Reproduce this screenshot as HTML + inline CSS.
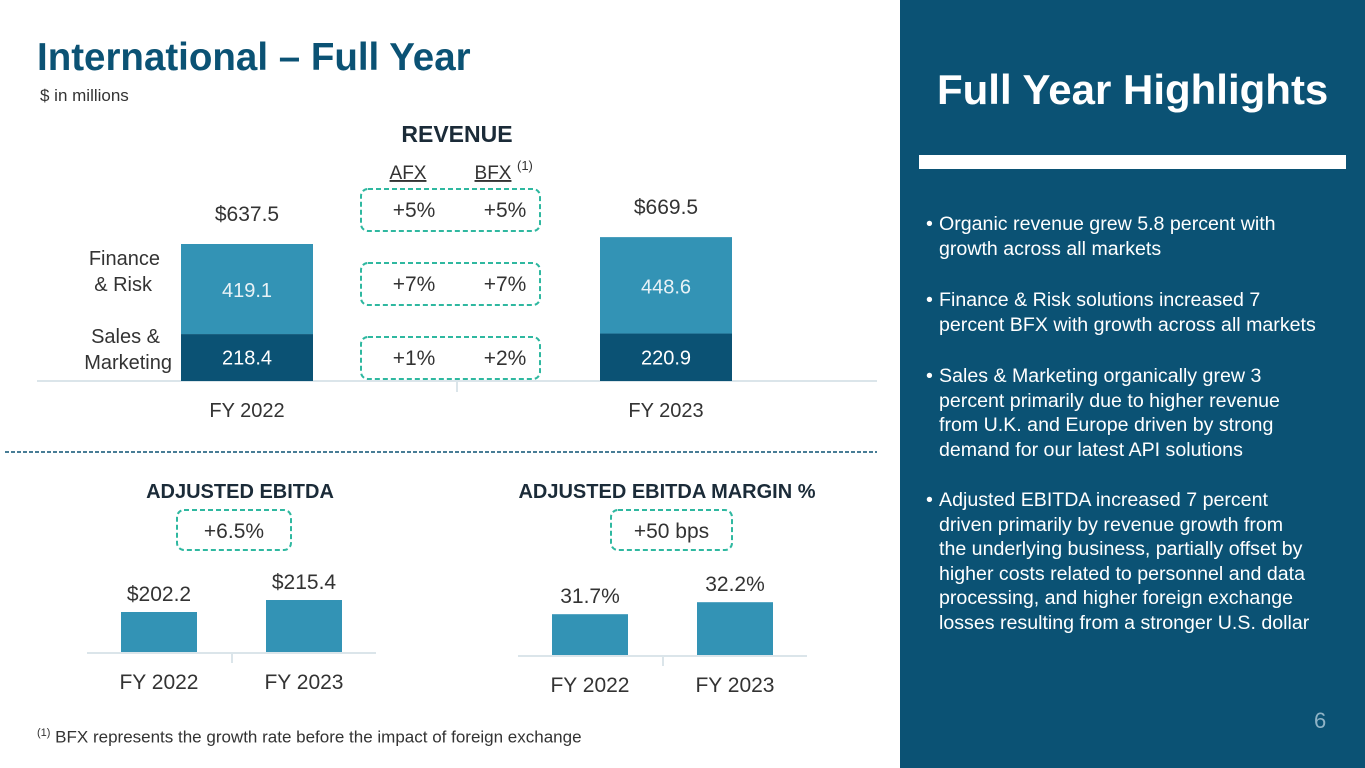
<!DOCTYPE html>
<html><head><meta charset="utf-8"><style>
body{margin:0;width:1365px;height:768px;overflow:hidden;background:#fff;font-family:"Liberation Sans",sans-serif;position:relative}
.a{position:absolute;white-space:nowrap}
#panel{position:absolute;left:900px;top:0;width:465px;height:768px;background:#0b5274}
.bl{position:absolute;left:39px;color:#fff;font-size:19.6px;line-height:24.5px;white-space:nowrap}
.bl .d{position:absolute;left:-13px}
</style></head><body>
<div class="a" style="left:37px;top:36px;font-size:38.5px;font-weight:bold;color:#0b5274">International – Full Year</div>
<div class="a" style="left:40px;top:86px;font-size:17px;color:#333">$ in millions</div>
<svg id="c" width="900" height="768" style="position:absolute;left:0;top:0"></svg>
<div id="panel">
<div class="a" style="left:37px;top:66px;font-size:42px;font-weight:bold;color:#fff">Full Year Highlights</div>
<div class="a" style="left:19px;top:155px;width:427px;height:14px;background:#fff"></div>
<div class="bl" style="top:212px"><span class="d">•</span>Organic revenue grew 5.8 percent with<br>growth across all markets</div>
<div class="bl" style="top:288px"><span class="d">•</span>Finance &amp; Risk solutions increased 7<br>percent BFX with growth across all markets</div>
<div class="bl" style="top:364px"><span class="d">•</span>Sales &amp; Marketing organically grew 3<br>percent primarily due to higher revenue<br>from U.K. and Europe driven by strong<br>demand for our latest API solutions</div>
<div class="bl" style="top:488px"><span class="d">•</span>Adjusted EBITDA increased 7 percent<br>driven primarily by revenue growth from<br>the underlying business, partially offset by<br>higher costs related to personnel and data<br>processing, and higher foreign exchange<br>losses resulting from a stronger U.S. dollar</div>
<div class="a" style="left:414px;top:708px;font-size:22px;color:#8fb3c6">6</div>
</div>
<div class="a" style="left:37px;top:727px;font-size:17px;color:#333"><sup style="font-size:11px">(1)</sup> BFX represents the growth rate before the impact of foreign exchange</div>
<script>
const years=["FY 2022","FY 2023"];
const salesMkt=[218.4,220.9];
const finRisk=[419.1,448.6];
const totals=[637.5,669.5];
const ebitda=[202.2,215.4];
const ebitdaLabels=["$202.2","$215.4"];
const margin=[31.7,32.2];
const marginLabels=["31.7%","32.2%"];
const afx=["+5%","+7%","+1%"];
const bfx=["+5%","+7%","+2%"];
const svg=document.getElementById('c');
const NS='http://www.w3.org/2000/svg';
function mk(t,a,txt){const e=document.createElementNS(NS,t);for(const k in a)e.setAttribute(k,a[k]);if(txt!=null)e.textContent=txt;svg.appendChild(e);return e;}
const DARK='#0b5274',LIGHT='#3393b5',TEAL='#2fb8a0',TXT='#333';
const rBase=381,rK=0.2149,rX=[181,600],rW=132;
const ry=v=>rBase-v*rK;
mk('line',{x1:37,y1:381,x2:877,y2:381,stroke:'#dbe5ea','stroke-width':2});
mk('line',{x1:457,y1:381,x2:457,y2:392,stroke:'#dbe5ea','stroke-width':2});
mk('text',{x:457,y:142,'text-anchor':'middle','font-size':23,'font-weight':'bold',fill:'#1b2b38'},'REVENUE');
years.forEach((y,i)=>{
 let r=mk('rect',{x:rX[i],y:ry(salesMkt[i]),width:rW,height:salesMkt[i]*rK,fill:DARK});
 
 r=mk('rect',{x:rX[i],y:ry(salesMkt[i]+finRisk[i]),width:rW,height:finRisk[i]*rK,fill:LIGHT});
 
 const cx=rX[i]+rW/2;
 mk('text',{x:cx,y:(ry(salesMkt[i])+rBase)/2+7,'text-anchor':'middle','font-size':20,fill:'#fff'},salesMkt[i].toFixed(1));
 mk('text',{x:cx,y:(ry(salesMkt[i])+ry(totals[i]))/2+8,'text-anchor':'middle','font-size':20,fill:'#e8f2f6'},finRisk[i].toFixed(1));
 mk('text',{x:cx,y:ry(totals[i])-23,'text-anchor':'middle','font-size':21,fill:TXT},'$'+totals[i].toFixed(1));
 mk('text',{x:cx,y:417,'text-anchor':'middle','font-size':20,fill:TXT},y);
});
mk('text',{x:160,y:265,'text-anchor':'end','font-size':20,fill:TXT},'Finance');
mk('text',{x:152,y:291,'text-anchor':'end','font-size':20,fill:TXT},'& Risk');
mk('text',{x:160,y:343,'text-anchor':'end','font-size':20,fill:TXT},'Sales &');
mk('text',{x:172,y:369,'text-anchor':'end','font-size':20,fill:TXT},'Marketing');
mk('text',{x:408,y:179,'text-anchor':'middle','font-size':19,fill:TXT,'text-decoration':'underline'},'AFX');
mk('text',{x:493,y:179,'text-anchor':'middle','font-size':19,fill:TXT,'text-decoration':'underline'},'BFX');
mk('text',{x:517,y:170,'font-size':13,fill:TXT},'(1)');
const boxY=[189,263,337];
afx.forEach((a,i)=>{
 const b=mk('rect',{x:361,y:boxY[i],width:179,height:42,rx:7,fill:'none',stroke:TEAL,'stroke-width':2,'stroke-dasharray':'5 3'});
 
 mk('text',{x:414,y:boxY[i]+28,'text-anchor':'middle','font-size':21,fill:TXT},a);
 mk('text',{x:505,y:boxY[i]+28,'text-anchor':'middle','font-size':21,fill:TXT},bfx[i]);
});
mk('line',{x1:5,y1:452,x2:877,y2:452,stroke:DARK,'stroke-width':1.5,'stroke-dasharray':'4 2'});
function small(vals,labels,min,k,bx,base,axisX,title,titleX,badge,badgeX,badgeW){
 mk('line',{x1:axisX,y1:base+1,x2:axisX+289,y2:base+1,stroke:'#dbe5ea','stroke-width':2});
 mk('line',{x1:axisX+145,y1:base+1,x2:axisX+145,y2:base+11,stroke:'#dbe5ea','stroke-width':2});
 mk('text',{x:titleX,y:498,'text-anchor':'middle','font-size':20,'font-weight':'bold',fill:'#1b2b38'},title);
 mk('rect',{x:badgeX,y:510,width:badgeW,height:40,rx:7,fill:'none',stroke:TEAL,'stroke-width':2,'stroke-dasharray':'5 3'});
 mk('text',{x:badgeX+badgeW/2,y:538,'text-anchor':'middle','font-size':21,fill:TXT},badge);
 vals.forEach((v,i)=>{
  const h=(v-min)*k,x=bx[i];
  const r=mk('rect',{x:x,y:base-h,width:76,height:h,fill:LIGHT});
  
  mk('text',{x:x+38,y:base-h-11,'text-anchor':'middle','font-size':21,fill:TXT},labels[i]);
  mk('text',{x:x+38,y:base+37,'text-anchor':'middle','font-size':21,fill:TXT},years[i]);
 });
}
small(ebitda,ebitdaLabels,158.2,0.909,[121,266],652,87,'ADJUSTED EBITDA',240,'+6.5%',177,114);
small(margin,marginLabels,30.0,24,[552,697],655,518,'ADJUSTED EBITDA MARGIN %',667,'+50 bps',611,121);
</script>
</body></html>
